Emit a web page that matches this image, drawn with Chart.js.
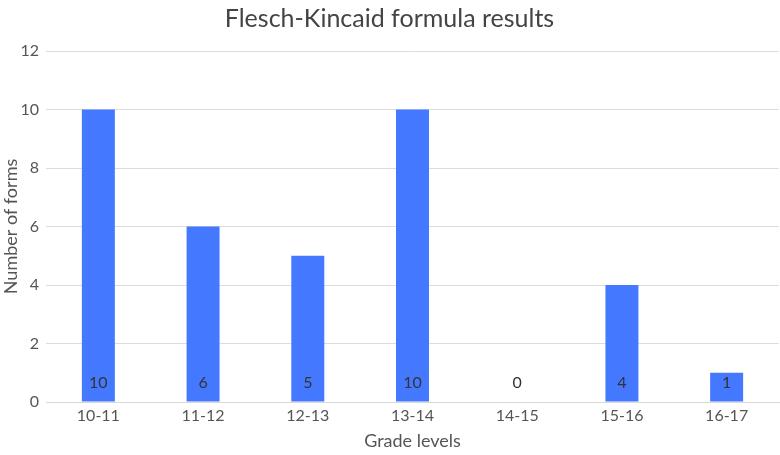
<!DOCTYPE html>
<html><head><meta charset="utf-8">
<script src="https://cdn.jsdelivr.net/npm/chart.js@4/dist/chart.umd.min.js"></script>
<style>html,body{margin:0;padding:0;background:#fff}#w{width:780px;height:455px}</style>
</head><body><div id="w"><canvas id="c"></canvas></div>
<script>
const categories = ["10-11","11-12","12-13","13-14","14-15","15-16","16-17"];
const values = [10,6,5,10,0,4,1];
const yTicks = [0,2,4,6,8,10,12];
const FONT = "Lato, 'Open Sans', sans-serif";

const baseLabels = {
  id:'baseLabels',
  afterDatasetsDraw(chart){
    const ctx = chart.ctx, meta = chart.getDatasetMeta(0), y0 = chart.scales.y.getPixelForValue(0);
    ctx.save();
    ctx.font = "16px " + FONT;
    ctx.fillStyle = "#333";
    ctx.textAlign = "center"; ctx.textBaseline = "middle";
    meta.data.forEach((bar,i)=>{ ctx.fillText(String(values[i]), bar.x, y0 - 19); });
    ctx.restore();
  }
};

new Chart(document.getElementById('c'),{
  type:'bar',
  data:{labels:categories,datasets:[{data:values,backgroundColor:'#4479FF',barPercentage:0.315,categoryPercentage:1}]},
  options:{
    responsive:true,maintainAspectRatio:false,animation:false,
    layout:{padding:{left:0,right:1,top:0,bottom:0}},
    plugins:{
      legend:{display:false},tooltip:{enabled:false},
      title:{display:true,text:'Flesch-Kincaid formula results',color:'#444',font:{family:FONT,size:25,weight:'normal'},padding:{top:4,bottom:17}}
    },
    scales:{
      x:{
        afterFit(s){ s.height = 53; },
        grid:{display:false,drawTicks:false},border:{color:'#d9d9d9'},
        ticks:{color:'#555',font:{family:FONT,size:16},padding:4},
        title:{display:true,text:'Grade levels',color:'#555',font:{family:FONT,size:18},padding:{top:4,bottom:3}}
      },
      y:{
        min:0,max:12,
        afterBuildTicks(s){ s.ticks = yTicks.map(v=>({value:v})); },
        afterFit(s){ s.width = 46; },
        grid:{color:'#dcdcdc',drawTicks:false},border:{display:false},
        ticks:{color:'#555',font:{family:FONT,size:16},padding:7},
        title:{display:true,text:'Number of forms',color:'#555',font:{family:FONT,size:18},padding:{top:0,bottom:1}}
      }
    }
  },
  plugins:[baseLabels]
});
</script></body></html>
